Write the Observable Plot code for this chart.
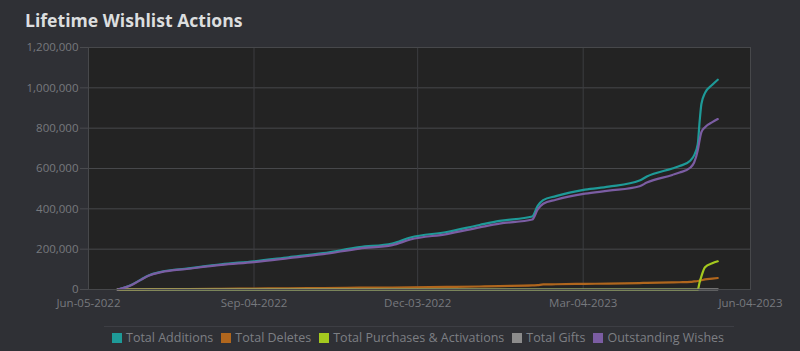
<!DOCTYPE html>
<html><head><meta charset="utf-8">
<script src="https://cdn.jsdelivr.net/npm/d3@7"></script>
<script src="https://cdn.jsdelivr.net/npm/@observablehq/plot@0.6"></script>
<style>
html,body{margin:0;padding:0;background:#2f3035;}
body{width:800px;height:351px;overflow:hidden;position:relative;font-family:"Open Sans",sans-serif;}
#title{position:absolute;left:25px;top:8px;font-size:17.6px;font-weight:700;color:#dcdedf;letter-spacing:0;}
#chart{position:absolute;left:0;top:40px;}
#sep{position:absolute;left:104px;width:630px;top:326px;height:1px;background:#3d3e44;}
#legend{position:absolute;left:112px;top:329px;display:flex;gap:8px;font-size:12.5px;color:#7d7f84;white-space:nowrap;}
#legend span.item{display:flex;align-items:center;}
#legend i{display:inline-block;width:10px;height:10px;margin-right:4px;}
</style>
</head><body>
<div id="title">Lifetime Wishlist Actions</div>
<div id="chart"></div>
<div id="sep"></div>
<div id="legend"></div>
<script>
const seriesNames = ["Total Additions","Total Deletes","Total Purchases & Activations","Total Gifts","Outstanding Wishes"];
const seriesColors = ["#1e9a98","#b0661d","#a4c91f","#8c8c8c","#7b5da3"];

const dates = ["2022-06-21","2022-06-29","2022-07-04","2022-07-08","2022-07-15","2022-07-30","2022-08-17","2022-09-04","2022-09-23","2022-10-12",
  "2022-11-01","2022-11-19","2022-11-29","2022-12-19","2023-01-06","2023-01-17","2023-02-04","2023-02-07","2023-02-10","2023-02-17",
  "2023-03-05","2023-03-18","2023-04-04","2023-04-08","2023-04-22","2023-04-26","2023-05-02","2023-05-04","2023-05-06","2023-05-07",
  "2023-05-08","2023-05-10","2023-05-14","2023-05-17"];

const totalAdditions = [0,25000,50000,70000,88000,105000,125000,140000,160000,180000,
  210000,228000,258000,285000,320000,340000,362000,415000,443000,463000,
  495000,510000,540000,560000,600000,612000,640000,665000,720000,830000,
  920000,975000,1015000,1040000];
const totalDeletes = [0,500,1000,1500,2000,2500,3000,5000,6000,7000,
  9000,10000,11000,13000,15000,17000,20000,22000,25000,26000,
  28000,29000,32000,33000,35000,36000,38000,40000,42000,44000,
  46000,50000,54000,57000];
const totalPurchases = [0,0,0,0,0,0,0,0,0,0,
  0,0,0,0,0,0,0,0,0,0,
  0,0,0,0,0,0,0,0,0,35000,
  65000,110000,130000,140000];
const totalGifts = [0,0,0,0,0,0,0,0,0,0,
  0,0,0,0,0,0,0,0,0,0,
  0,0,0,0,0,0,0,0,0,200,
  400,600,800,1000];
const outstandingWishes = [0,24000,49000,68000,86000,103000,122000,136000,155000,175000,
  203000,220000,248000,275000,308000,327000,347000,397000,425000,445000,
  475000,490000,512000,530000,568000,580000,605000,630000,690000,740000,
  780000,805000,830000,845000];

const xTickLabels = ["2022-06-05","2022-09-04","2022-12-03","2023-03-04","2023-06-04"];
const yTicks = [0,200000,400000,600000,800000,1000000,1200000];

const seriesValues = [totalAdditions,totalDeletes,totalPurchases,totalGifts,outstandingWishes];
const rows = [];
seriesNames.forEach((s,i)=>{
  dates.forEach((d,j)=>rows.push({series:s,date:new Date(d+"T00:00:00Z"),value:seriesValues[i][j]}));
});
const xTicks = xTickLabels.map(d=>new Date(d+"T00:00:00Z"));

const plot = Plot.plot({
  width:800,
  height:279,
  marginTop:7,
  marginBottom:30,
  marginLeft:88,
  marginRight:50,
  style:{background:"transparent",color:"#77797e",fontFamily:"Open Sans, sans-serif",fontSize:"11.5px"},
  x:{type:"utc",domain:[xTicks[0],xTicks[xTicks.length-1]],label:null},
  y:{domain:[0,1200000],label:null},
  color:{domain:seriesNames,range:seriesColors},
  marks:[
    Plot.frame({fill:"#232323",stroke:null}),
    Plot.gridY(yTicks,{stroke:"#47484b",strokeOpacity:1}),
    Plot.gridX(xTicks,{stroke:"#3c3d40",strokeOpacity:1}),
    Plot.axisY(yTicks,{tickSize:8,tickPadding:2,tickFormat:d3.format(","),stroke:"#4a4b4f",label:null}),
    Plot.axisX(xTicks,{tickSize:0,tickPadding:9,tickFormat:d3.utcFormat("%b-%d-%Y"),label:null}),
    Plot.line(rows,{x:"date",y:"value",z:"series",stroke:"series",curve:"monotone-x",strokeWidth:2.2}),
    Plot.frame({stroke:"#47484b"})
  ]
});
document.getElementById("chart").appendChild(plot);

const legend = document.getElementById("legend");
seriesNames.forEach((s,i)=>{
  const it = document.createElement("span");
  it.className="item";
  it.innerHTML = `<i style="background:${seriesColors[i]}"></i>${s.replace("&","&amp;")}`;
  legend.appendChild(it);
});
</script>
</body></html>
